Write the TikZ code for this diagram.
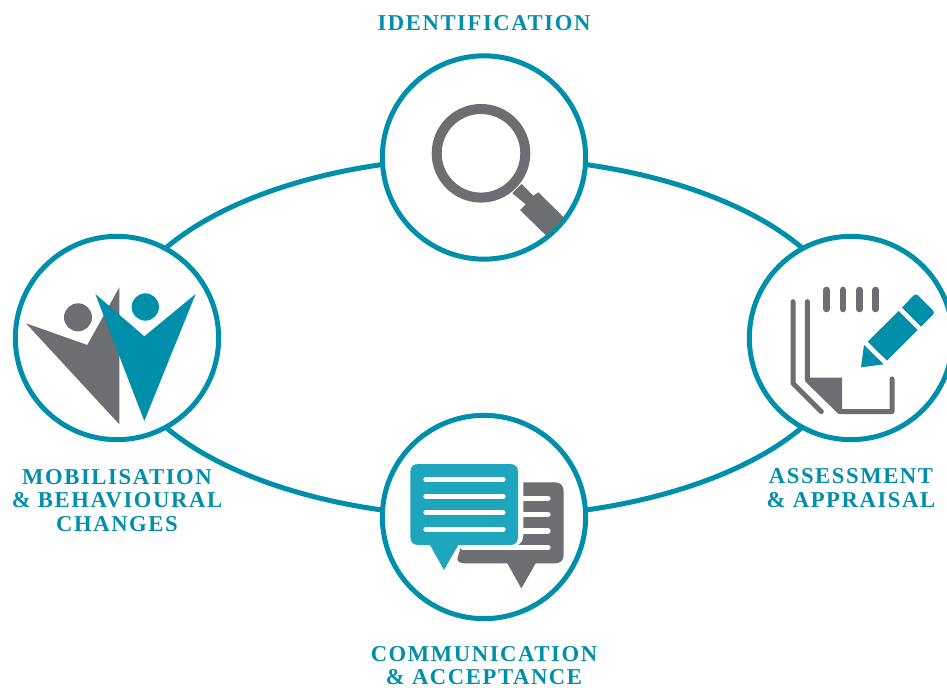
\documentclass[tikz,border=0pt]{standalone}
\usepackage{fontspec}
\setmainfont{Liberation Serif}
\newfontfamily\lblfont[LetterSpace=7,Ligatures=NoCommon]{Liberation Serif}
\usetikzlibrary{backgrounds}
\definecolor{tealc}{HTML}{008FAB}
\definecolor{bubc}{HTML}{1FA6BF}
\definecolor{grayc}{HTML}{6D6E71}
\tikzset{
  stagecircle/.style={circle,draw=tealc,line width=3.75pt,fill=white,minimum size=152.5pt,inner sep=0pt},
  link/.style={draw=tealc,line width=3.75pt},
  lbl/.style={text=tealc,font=\lblfont\bfseries\fontsize{17}{19}\selectfont,inner sep=0pt},
  grayfill/.style={fill=grayc},
  tealfill/.style={fill=tealc},
  pen/.style={draw=grayc,line width=3.75pt,line cap=round,line join=round},
  tick/.style={draw=grayc,line width=5pt,line cap=round},
  wline/.style={draw=white,line width=4pt,line cap=round},
}
\begin{document}
\begin{tikzpicture}[x=0.75pt,y=-0.75pt]
\useasboundingbox (0,0) rectangle (947,688);
\clip (0,0) rectangle (947,688);
\node[stagecircle] (top) at (484,157.5) {};
\node[stagecircle] (right) at (851,338) {};
\node[stagecircle] (bottom) at (484,517) {};
\node[stagecircle] (left) at (117,338) {};
\begin{scope}[on background layer]
  \draw[link] (top.center) .. controls (686.7,157.5) and (851,238.3) .. (right.center);
  \draw[link] (right.center) .. controls (851,437) and (686.7,517) .. (bottom.center);
  \draw[link] (bottom.center) .. controls (281.3,517) and (117,437) .. (left.center);
  \draw[link] (left.center) .. controls (117,238.3) and (281.3,157.5) .. (top.center);
\end{scope}
% magnifier
\draw[draw=grayc,line width=7.5pt] (481,153.3) circle (44.3);
\begin{scope}
  \clip (484,157.5) circle (99.5);
  \fill[grayfill] (512.3,193.3) -- (521.7,184) -- (533.3,195.7) -- (538.3,192.3) -- (570,223.4) -- (552.4,241.7) -- (520,210) -- (525.7,204.3) -- cycle;
\end{scope}
% notepad and pencil
\begin{scope}[shift={(737,225)},scale=1/3]
  \foreach \xx in {269,318,367,416} \draw[tick] (\xx,195) -- (\xx,252);
  \draw[pen] (168,230) -- (168,475) -- (253,560);
  \draw[pen] (211,230) -- (211,465) -- (308,560) -- (465,560) -- (465,462);
  \fill[grayfill] (211,458) -- (315,458) -- (315,560) -- (308,560) -- (211,465) -- cycle;
  \fill[tealfill] (495,248) -- (529,212) .. controls (534,207) and (539,207) .. (544,212) -- (587,255) .. controls (592,260) and (592,265) .. (587,270) -- (552,305) -- cycle;
  \fill[tealfill] (485,258) -- (542,315) -- (450,407) -- (392,350) -- cycle;
  \fill[tealfill] (381,360) -- (440,418) -- (372,427) -- cycle;
\end{scope}
% speech bubbles
\begin{scope}[shift={(370,405)},scale=1/3]
  \fill[grayfill] (460,232) -- (555,232) .. controls (571,232) and (581,242) .. (581,258) -- (581,450) .. controls (581,466) and (571,475) .. (555,475) -- (497,475) -- (454,550) -- (412,475) -- (285,475) .. controls (272,475) and (262,470) .. (262,460) -- (275,420) -- (445,420) .. controls (455,412) and (460,405) .. (460,395) -- cycle;
  \foreach \yy in {280,328,378} \draw[wline] (450,\yy) -- (534,\yy);
  \draw[wline] (280,428) -- (534,428);
  \fill[fill=bubc] (146,177) -- (419,177) .. controls (436,177) and (444,185) .. (444,202) -- (444,395) .. controls (444,412) and (436,420) .. (419,420) -- (265,420) -- (222,495) -- (180,420) -- (146,420) .. controls (129,420) and (121,412) .. (121,395) -- (121,202) .. controls (121,185) and (129,177) .. (146,177) -- cycle;
  \foreach \yy in {224,274,323,373} \draw[wline] (168,\yy) -- (399,\yy);
\end{scope}
% people
\begin{scope}[shift={(0,225)},scale=1/3]
  \fill[grayfill] (78,295) -- (262,360) -- (358,187) -- (358,598) -- cycle;
  \fill[grayfill] (234,277) circle (42);
  \fill[tealfill] (286,207) -- (433,334) -- (587,207) -- (433,588) -- cycle;
  \fill[tealfill] (436,246) circle (41);
\end{scope}
% labels
\node[lbl] (t1) at (484,23.5) {IDENTIFICATION};
\node[lbl] (t2) at (851,476.5) {ASSESSMENT};
\node[lbl] (t3) at (851,500) {\&\ APPRAISAL};
\node[lbl] (t4) at (484,654) {COMMUNICATION};
\node[lbl] (t5) at (484,677) {\&\ ACCEPTANCE};
\node[lbl] (t6) at (117,477) {MOBILISATION};
\node[lbl] (t7) at (117,500) {\&\ BEHAVIOURAL};
\node[lbl] (t8) at (117,524) {CHANGES};
\end{tikzpicture}
\end{document}
